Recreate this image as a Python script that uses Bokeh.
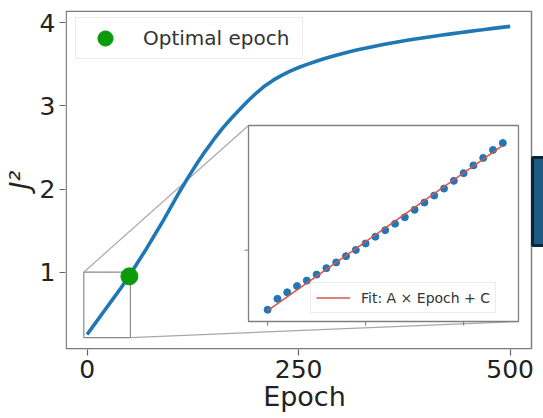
from bokeh.plotting import figure
from bokeh.models import Range1d, Legend, LegendItem, FixedTicker, BoxAnnotation
from bokeh.embed import file_html
from bokeh.resources import INLINE

# ---------------- data ----------------
epochs = list(range(0, 501, 10))
j2 = [0.25, 0.39, 0.53, 0.67, 0.81, 0.96, 1.12, 1.28, 1.45, 1.62,
      1.80, 1.98, 2.15, 2.31, 2.46, 2.60, 2.73, 2.845, 2.955, 3.06,
      3.155, 3.24, 3.31, 3.368, 3.418, 3.462, 3.50, 3.535, 3.567, 3.597,
      3.625, 3.651, 3.675, 3.698, 3.719, 3.739, 3.758, 3.776, 3.793, 3.809,
      3.824, 3.839, 3.853, 3.867, 3.881, 3.894, 3.907, 3.92, 3.933, 3.945,
      3.957]
opt_epoch = [50]
opt_j2 = [0.95]

inset_epochs = list(range(0, 49, 2))
inset_j2 = [0.261, 0.305, 0.331, 0.356, 0.378, 0.402, 0.428, 0.451, 0.476,
            0.501, 0.527, 0.554, 0.580, 0.606, 0.632, 0.662, 0.691, 0.719,
            0.747, 0.778, 0.809, 0.840, 0.870, 0.902, 0.930]
fit_A = 0.01379
fit_C = 0.258

x_ticks = [0, 250, 500]
y_ticks = [1, 2, 3, 4]
inset_x_ticks = [0, 20, 40]
inset_y_ticks = [0.5]
zoom_x = (-3.9, 51.2)
zoom_y = (0.214, 1.0)

# ---------------- layout (pixels) ----------------
W, H = 543, 418
FL, FR, FT, FB = 65, 531, 10, 349      # visible main axes box
IL, IR, IT, IB = 248, 518, 125, 321    # inset box
XR = (-25.5, 525.2)                    # data span of the visible axes box
YR = (0.07, 4.148)
FONT = "DejaVu Sans"
BLUE = "#1f77b4"

# the drawing frame runs to the right page edge so the decoration there is not clipped
ux = (XR[1] - XR[0]) / (FR - FL)
uy = (YR[1] - YR[0]) / (FB - FT)
x_range = Range1d(XR[0], XR[1] + (W - FR) * ux)
y_range = Range1d(*YR)

p = figure(width=W, height=H, x_range=x_range, y_range=y_range,
           output_backend="svg", toolbar_location=None,
           min_border_left=FL, min_border_right=0,
           min_border_top=FT, min_border_bottom=H - FB)
p.background_fill_color = "white"
p.border_fill_color = "white"
p.outline_line_color = None
p.grid.visible = False

# inset coordinate system mapped over the whole frame
kx = (zoom_x[1] - zoom_x[0]) / (IR - IL)
ky = (zoom_y[1] - zoom_y[0]) / (IB - IT)
ix = Range1d(zoom_x[0] - (IL - FL) * kx, zoom_x[1] + (W - IR) * kx)
iy = Range1d(zoom_y[0] - (FB - IB) * ky, zoom_y[1] + (IT - FT) * ky)
p.extra_x_ranges = {"ix": ix}
p.extra_y_ranges = {"iy": iy}


def main_to_inset_x(x):
    px = (x - XR[0]) / ux
    return ix.start + px * kx


def main_to_inset_y(y):
    py = (y - YR[0]) / uy
    return iy.start + py * ky


# axes
for ax in (p.xaxis[0], p.yaxis[0]):
    ax.axis_line_color = None
    ax.major_tick_line_color = "#666666"
    ax.major_tick_line_width = 1.2
    ax.major_tick_out = 6
    ax.major_tick_in = 0
    ax.minor_tick_line_color = None
    ax.major_label_text_font = FONT
    ax.major_label_text_font_size = "25px"
    ax.major_label_text_color = "#222222"
    ax.major_label_standoff = 4
    ax.axis_label_text_font = FONT
    ax.axis_label_text_font_size = "27px"
    ax.axis_label_text_color = "#222222"
p.xaxis.ticker = FixedTicker(ticks=x_ticks)
p.yaxis.ticker = FixedTicker(ticks=y_ticks)
p.xaxis.axis_label = "Epoch"
p.xaxis.axis_label_standoff = 0
p.xaxis.axis_label_text_font_style = "normal"
p.yaxis.axis_label = "J²"
p.yaxis.axis_label_standoff = 2
p.yaxis.axis_label_text_font_style = "italic"

# visible axes box
p.add_layout(BoxAnnotation(left=FL + 0.7, right=FR, top=FT + 0.7, bottom=FB - 0.7,
                           left_units="canvas", right_units="canvas",
                           top_units="canvas", bottom_units="canvas",
                           fill_alpha=0, line_color="#7a7a7a", line_alpha=1.0,
                           line_width=1.4))

# zoom box and connectors
p.quad(left=[zoom_x[0]], right=[zoom_x[1]], bottom=[zoom_y[0]], top=[zoom_y[1]],
       fill_color=None, line_color="#8a8a8a", line_width=1.2)
p.segment(x0=[main_to_inset_x(zoom_x[0]), main_to_inset_x(zoom_x[1])],
          y0=[main_to_inset_y(zoom_y[1]), main_to_inset_y(zoom_y[0])],
          x1=[zoom_x[0], zoom_x[1]], y1=[zoom_y[1], zoom_y[0]],
          x_range_name="ix", y_range_name="iy",
          line_color="#a8a8a8", line_width=1.2)

# main curve and optimal epoch
p.line(epochs, j2, line_color=BLUE, line_width=3.6)
opt = p.scatter(opt_epoch, opt_j2, size=17, fill_color="#0a9a0a", line_color="#0a9a0a")

leg = Legend(items=[LegendItem(label="Optimal epoch", renderers=[opt])],
             location=(75 - FL, FB - 59), margin=0, padding=1, spacing=0,
             glyph_width=56, glyph_height=38, label_height=20, label_width=158,
             label_standoff=10,
             label_text_font=FONT, label_text_font_size="20px",
             label_text_color="#333333", border_line_color="#d6d6d6",
             border_line_width=1, background_fill_alpha=0.85)
p.add_layout(leg)

# inset
p.quad(left=[zoom_x[0]], right=[zoom_x[1]], bottom=[zoom_y[0]], top=[zoom_y[1]],
       x_range_name="ix", y_range_name="iy",
       fill_color="white", line_color="#808080", line_width=1.3)
p.segment(x0=inset_x_ticks, x1=inset_x_ticks,
          y0=[zoom_y[0]] * len(inset_x_ticks), y1=[zoom_y[0] - 4 * ky] * len(inset_x_ticks),
          x_range_name="ix", y_range_name="iy", line_color="#777777", line_width=1)
p.segment(x0=[zoom_x[0]] * len(inset_y_ticks), x1=[zoom_x[0] - 4 * kx] * len(inset_y_ticks),
          y0=inset_y_ticks, y1=inset_y_ticks,
          x_range_name="ix", y_range_name="iy", line_color="#777777", line_width=1)
p.scatter(inset_epochs, inset_j2, x_range_name="ix", y_range_name="iy",
          size=7, fill_color=BLUE, line_color=BLUE)
fit_x = [inset_epochs[0], inset_epochs[-1]]
fit_y = [fit_A * x + fit_C for x in fit_x]
fit = p.line(fit_x, fit_y, x_range_name="ix", y_range_name="iy",
             line_color="#d9534f", line_width=1.5)

leg2 = Legend(items=[LegendItem(label="Fit: A × Epoch + C", renderers=[fit])],
              location=(310 - FL, FB - 313), margin=0, padding=5, spacing=0,
              glyph_width=34, glyph_height=19, label_height=19, label_standoff=11,
              label_text_font=FONT, label_text_font_size="14px",
              label_text_color="#333333", border_line_color="#d6d6d6",
              border_line_width=1, background_fill_alpha=0.85)
p.add_layout(leg2)

# dark blue block at the right edge
p.add_layout(BoxAnnotation(left=532, right=550, top=157, bottom=245,
                           left_units="canvas", right_units="canvas",
                           top_units="canvas", bottom_units="canvas",
                           fill_color="#1d5b83", fill_alpha=1.0,
                           line_color="#0b2538", line_alpha=1.0, line_width=3))

open("out.html", "w").write(file_html(p, INLINE))
